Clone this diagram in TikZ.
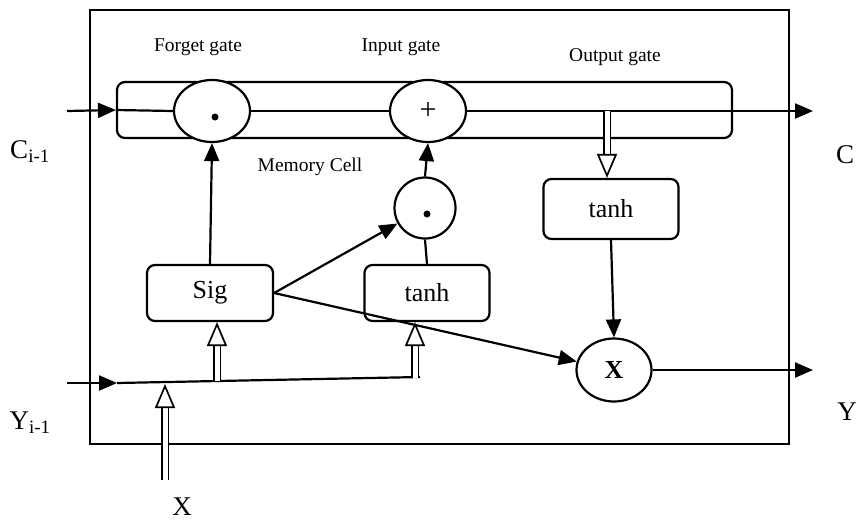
\documentclass[tikz,border=0pt]{standalone}
\usepackage{fontspec}
\setmainfont{Liberation Serif}
\usetikzlibrary{arrows.meta, shapes.geometric}
\tikzset{box/.style={draw, rounded corners=8pt, line width=2.2pt, fill=white, font=\fontsize{26}{28}\selectfont},
  gate/.style={draw, ellipse, line width=2.2pt, fill=white, inner sep=0pt},
  arr/.style={line width=2.2pt, -{Triangle[length=18pt,width=15pt]}},
  wire/.style={line width=2.2pt},
  hollow/.style={draw=black, line width=1.7pt, double=white, double distance=5pt, -{Triangle[open,length=24pt,width=20pt,fill=white]}},
  lbl/.style={font=\fontsize{19.5}{22}\selectfont},
  big/.style={font=\fontsize{27}{30}\selectfont}}

\begin{document}
\begin{tikzpicture}[x=1pt, y=-1pt]
        \useasboundingbox (0,0) rectangle (860,520);

        % frame and memory cell
        \node [draw, line width=2.2pt, minimum width=699pt, minimum height=434pt, inner sep=0pt] (frame) at (439.5,227) {};
        \node [box, minimum width=615pt, minimum height=56pt] (cell) at (424.5,110) {};

        \node [lbl] (lforget) at (198,47) {Forget gate};
        \node [lbl] (linput) at (401,47) {Input gate};
        \node [lbl] (loutput) at (615,57) {Output gate};
        \node [lbl] (lcell) at (310,167) {Memory Cell};

        % gates
        \node [gate, minimum width=76pt, minimum height=62pt] (forget) at (212,111) {};
        \node [gate, minimum width=76pt, minimum height=62pt, font=\fontsize{30}{32}\selectfont] (plus) at (428,111) {+};
        \node [gate, minimum width=61pt, minimum height=61pt] (mul) at (425,208) {};
        \node [gate, minimum width=75pt, minimum height=63pt, font=\fontsize{26}{28}\selectfont\bfseries] (xg) at (614,370) {X};
        \fill ([shift={(3,6)}]forget.center) circle (3.5pt);
        \fill ([shift={(2,6)}]mul.center) circle (3.5pt);

        \node [box, minimum width=135pt, minimum height=60pt] (tanho) at (611,209) {tanh};
        \node [box, minimum width=126pt, minimum height=56pt] (sig) at (210,293) {Sig};
        \node [box, minimum width=125pt, minimum height=56pt] (tanhi) at (427,293) {tanh};

        % outside labels
        \node [big] (cprev) at (30,152) {C\textsubscript{i-1}};
        \node [big] (yprev) at (30,423) {Y\textsubscript{i-1}};
        \node [big] (cnext) at (845,155) {C};
        \node [big] (ynext) at (847,412) {Y};
        \node [big] (xin) at (182,507) {X};

        \coordinate (cin) at (67,111);
        \coordinate (cout) at (813,111);
        \coordinate (tap) at (607,111);
        \coordinate (yin) at (67,383);
        \coordinate (ya) at (117,383);
        \coordinate (yb) at (420,377);
        \coordinate (s1) at (217,381);
        \coordinate (s2) at (415,378);
        \coordinate (xa) at (165,480);
        \coordinate (xb) at (165,384);
        \coordinate (yout) at (813,370);

        % cell state
        \draw [arr] (cin) -- (cell.west);
        \draw [wire] (cell.west) -- (forget.west);
        \draw [wire] (forget.east) -- (plus.west);
        \draw [arr] (plus.east) -- (cout);
        \draw [hollow] (tap) -- (tap |- tanho.north);

        \path [arr] (sig.north) edge (forget.south)
            (sig.east) edge (mul) edge (xg)
            (mul.north) edge (plus.south)
            (tanho.south) edge (xg.north)
            (xg.east) edge (yout);
        \draw [wire] (tanhi.north) -- (mul.south);

        % inputs
        \draw [arr] (yin) -- (ya);
        \draw [wire] (ya) -- (yb);
        \draw [hollow] (s1) -- (s1 |- sig.south);
        \draw [hollow] (s2) -- (s2 |- tanhi.south);
        \draw [hollow] (xa) -- (xb);
\end{tikzpicture}
\end{document}
